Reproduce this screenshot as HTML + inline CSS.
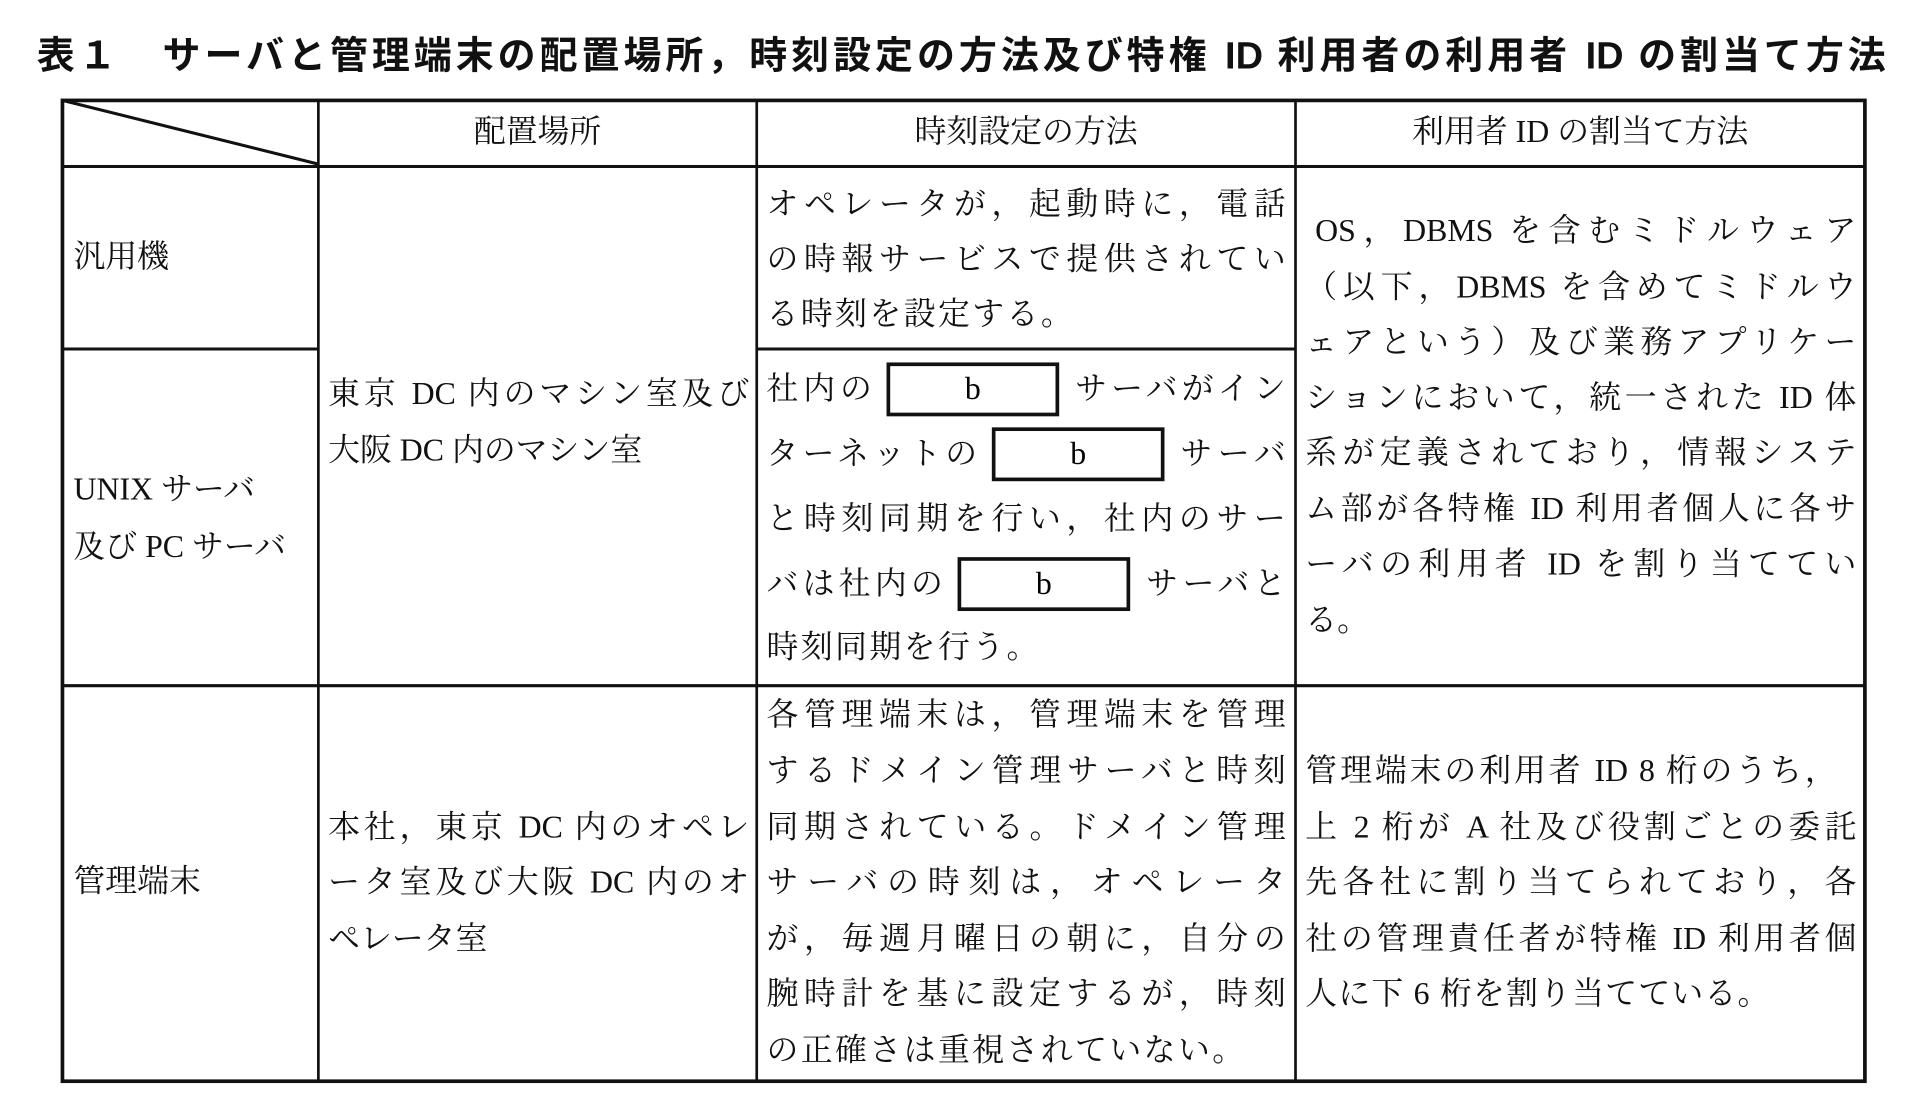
<!DOCTYPE html>
<html><head><meta charset="utf-8"><style>
html,body{margin:0;padding:0;background:#fff;width:1920px;height:1118px;overflow:hidden}
#w{position:absolute;left:0;top:0;width:1568px;height:913px;transform:scale(1.22449);transform-origin:0 0}
.t{position:absolute;height:34px;line-height:34px;font-size:26px;white-space:nowrap;color:#111;font-family:"Liberation Serif","Noto Serif CJK JP","Noto Serif CJK SC",serif}
.j{text-align:justify;text-align-last:justify}
.c{text-align:center}
.bx{position:absolute;border:3px solid #111;box-sizing:border-box;text-align:center;font-size:26px;line-height:38px;font-family:"Liberation Serif",serif}
#title{position:absolute;left:30px;top:26px;width:1510px;height:40px;line-height:40px;font-size:31px;font-weight:bold;white-space:nowrap;font-family:"Liberation Sans","Noto Sans CJK JP",sans-serif;text-align:justify;text-align-last:justify;color:#111}
</style></head><body><div id="w">
<div id="title">表１　サーバと管理端末の配置場所，時刻設定の方法及び特権 ID 利用者の利用者 ID の割当て方法</div>
<svg width="1568" height="913" style="position:absolute;left:0;top:0">
<g stroke="#111" fill="none">
<rect x="51" y="82" width="1472" height="801" stroke-width="3"/>
<line x1="51" y1="136" x2="1523" y2="136" stroke-width="2.5"/>
<line x1="260" y1="82" x2="260" y2="883" stroke-width="2.2"/>
<line x1="618" y1="82" x2="618" y2="883" stroke-width="2.2"/>
<line x1="1058" y1="82" x2="1058" y2="883" stroke-width="2.2"/>
<line x1="51" y1="285" x2="260" y2="285" stroke-width="2.5"/>
<line x1="618" y1="285" x2="1058" y2="285" stroke-width="2.5"/>
<line x1="51" y1="560" x2="1523" y2="560" stroke-width="2.5"/>
<line x1="51" y1="82" x2="260" y2="134" stroke-width="2.5"/>
</g></svg>
<div class="t c" style="left:260px;width:358px;top:91px">配置場所</div>
<div class="t c" style="left:618px;width:440px;top:91px">時刻設定の方法</div>
<div class="t c" style="left:1058px;width:465px;top:91px">利用者 ID の割当て方法</div>

<div class="t" style="left:60px;top:193px">汎用機</div>
<div class="t" style="left:60px;top:383px">UNIX サーバ</div>
<div class="t" style="left:60px;top:430px">及び PC サーバ</div>
<div class="t" style="left:60px;top:703px">管理端末</div>

<div class="t j" style="left:268px;width:344px;top:305px">東京 DC 内のマシン室及び</div>
<div class="t" style="left:268px;top:351px">大阪 DC 内のマシン室</div>
<div class="t j" style="left:268px;width:344px;top:659px">本社，東京 DC 内のオペレ</div>
<div class="t j" style="left:268px;width:344px;top:704px">ータ室及び大阪 DC 内のオ</div>
<div class="t" style="left:268px;top:750px">ペレータ室</div>

<div class="t j" style="left:626px;width:424px;top:150px">オペレータが，起動時に，電話</div>
<div class="t j" style="left:626px;width:424px;top:195px">の時報サービスで提供されてい</div>
<div class="t" style="left:626px;top:240px;letter-spacing:2px">る時刻を設定する。</div>

<div class="t j" style="left:626px;width:86px;top:301px">社内の</div>
<div class="bx" style="left:724px;top:296px;width:141px;height:44px">b</div>
<div class="t j" style="left:878px;width:172px;top:301px">サーバがイン</div>
<div class="t j" style="left:626px;width:172px;top:354px">ターネットの</div>
<div class="bx" style="left:810px;top:349px;width:141px;height:44px">b</div>
<div class="t j" style="left:964px;width:86px;top:354px">サーバ</div>
<div class="t j" style="left:626px;width:424px;top:407px">と時刻同期を行い，社内のサー</div>
<div class="t j" style="left:626px;width:144px;top:460px">バは社内の</div>
<div class="bx" style="left:782px;top:455px;width:141px;height:44px">b</div>
<div class="t j" style="left:936px;width:114px;top:460px">サーバと</div>
<div class="t" style="left:626px;top:512px;letter-spacing:2px">時刻同期を行う。</div>

<div class="t j" style="left:626px;width:424px;top:567px">各管理端末は，管理端末を管理</div>
<div class="t j" style="left:626px;width:424px;top:613px">するドメイン管理サーバと時刻</div>
<div class="t j" style="left:626px;width:424px;top:659px">同期されている。ドメイン管理</div>
<div class="t j" style="left:626px;width:424px;top:704px">サーバの時刻は，オペレータ</div>
<div class="t j" style="left:626px;width:424px;top:750px">が，毎週月曜日の朝に，自分の</div>
<div class="t j" style="left:626px;width:424px;top:795px">腕時計を基に設定するが，時刻</div>
<div class="t" style="left:626px;top:841px;letter-spacing:2px">の正確さは重視されていない。</div>

<div class="t j" style="left:1074px;width:442px;top:172px">OS，DBMS を含むミドルウェア</div>
<div class="t j" style="left:1066px;width:450px;top:218px">（以下，DBMS を含めてミドルウ</div>
<div class="t j" style="left:1066px;width:450px;top:263px">ェアという）及び業務アプリケー</div>
<div class="t j" style="left:1066px;width:450px;top:308px">ションにおいて，統一された ID 体</div>
<div class="t j" style="left:1066px;width:450px;top:353px">系が定義されており，情報システ</div>
<div class="t j" style="left:1066px;width:450px;top:399px">ム部が各特権 ID 利用者個人に各サ</div>
<div class="t j" style="left:1066px;width:450px;top:444px">ーバの利用者 ID を割り当ててい</div>
<div class="t" style="left:1066px;top:490px">る。</div>

<div class="t j" style="left:1066px;width:434px;top:613px">管理端末の利用者 ID 8 桁のうち，</div>
<div class="t j" style="left:1066px;width:450px;top:659px">上 2 桁が A 社及び役割ごとの委託</div>
<div class="t j" style="left:1066px;width:450px;top:704px">先各社に割り当てられており，各</div>
<div class="t j" style="left:1066px;width:450px;top:750px">社の管理責任者が特権 ID 利用者個</div>
<div class="t" style="left:1066px;top:795px;letter-spacing:1px">人に下 6 桁を割り当てている。</div>
</div></body></html>
